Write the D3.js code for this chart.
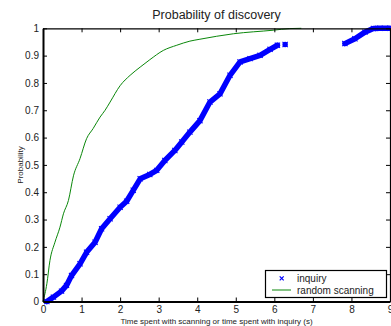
<!DOCTYPE html>
<html>
<head>
<meta charset="utf-8">
<script src="https://cdn.jsdelivr.net/npm/d3@7"></script>
<style>
  body { margin: 0; background: #fff; }
  svg { display: block; font-family: "Liberation Sans", Arial, sans-serif; }
</style>
</head>
<body>
<div id="chart-area"></div>
<script>
// random scanning (cdf)
var scanT = [0, 0.1, 0.18, 0.31, 0.44, 0.53, 0.66, 0.79, 0.96, 1.13, 1.3, 1.48, 1.61, 1.74,
             2.0, 2.26, 2.52, 2.77, 3.12, 3.47, 3.81, 4.07, 4.94, 5.97, 6.4, 6.7];
var scanP = [0, 0.065, 0.15, 0.217, 0.272, 0.321, 0.37, 0.46, 0.523, 0.596, 0.633, 0.675, 0.7, 0.73,
             0.79, 0.828, 0.858, 0.885, 0.919, 0.938, 0.953, 0.96, 0.98, 0.993, 0.999, 1];

// inquiry (null = gap in the data)
var inqT = [0.1, 0.27, 0.48, 0.61, 0.74, 0.96, 1.13, 1.35, 1.52, 1.74, 2.0, 2.17, 2.34, 2.52, 2.77,
            2.95, 3.16, 3.42, 3.6, 3.81, 4.07, 4.33, 4.59, 4.85, 5.11, 5.37, 5.63, 5.89, 6.08,
            6.18, 6.28, 7.0, 7.83, 8.09, 8.35, 8.57, 8.74, 9];
var inqP = [0, 0.016, 0.038, 0.059, 0.095, 0.138, 0.18, 0.217, 0.266, 0.303, 0.345, 0.367, 0.407, 0.449, 0.465,
            0.48, 0.516, 0.553, 0.584, 0.62, 0.662, 0.73, 0.76, 0.828, 0.877, 0.889, 0.901, 0.923, 0.938,
            null, 0.941, null, 0.944, 0.962, 0.986, 0.999, 1, 1];

var xTicks = [0, 1, 2, 3, 4, 5, 6, 7, 8, 9];
var yTicks = [0, 0.1, 0.2, 0.3, 0.4, 0.5, 0.6, 0.7, 0.8, 0.9, 1];

var W = 391, H = 326;
var margin = { left: 43, right: 390, top: 28.3, bottom: 301.5 };

var svg = d3.select("#chart-area").append("svg")
    .attr("width", W)
    .attr("height", H);

var x = d3.scaleLinear().domain([0, 9]).range([margin.left, margin.right]);
var y = d3.scaleLinear().domain([0, 1]).range([margin.bottom, margin.top]);

// lines
var scanData = scanT.map(function(t, i) { return [t, scanP[i]]; });
var inqData = inqT.map(function(t, i) { return [t, inqP[i]]; });

var line = d3.line()
    .defined(function(d) { return d[1] !== null; })
    .x(function(d) { return x(d[0]); })
    .y(function(d) { return y(d[1]); });

svg.append("path")
    .datum(inqData)
    .attr("fill", "none")
    .attr("stroke", "#0000ff")
    .attr("stroke-width", 5.5)
    .attr("stroke-linejoin", "round")
    .attr("stroke-linecap", "round")
    .attr("d", line);

// x markers
var ms = 2.6;
svg.selectAll(".mk")
    .data(inqData.filter(function(d) { return d[1] !== null; }))
    .enter().append("path")
    .attr("class", "mk")
    .attr("d", function(d) {
        var cx = x(d[0]), cy = y(d[1]);
        return "M" + (cx - ms) + "," + (cy - ms) + "L" + (cx + ms) + "," + (cy + ms) +
               "M" + (cx - ms) + "," + (cy + ms) + "L" + (cx + ms) + "," + (cy - ms);
    })
    .attr("stroke", "#0000ff")
    .attr("stroke-width", 1.1);

svg.append("path")
    .datum(scanData)
    .attr("fill", "none")
    .attr("stroke", "#0a870a")
    .attr("stroke-width", 1)
    .attr("stroke-linejoin", "round")
    .attr("d", line.curve(d3.curveMonotoneX));
line.curve(d3.curveLinear);

// axes
var xAxisCall = d3.axisBottom(x).tickValues(xTicks).tickSizeInner(-4).tickSizeOuter(0).tickPadding(4)
    .tickFormat(d3.format("d"));
var gx = svg.append("g")
    .attr("transform", "translate(0," + margin.bottom + ")")
    .call(xAxisCall);

var yAxisCall = d3.axisLeft(y).tickValues(yTicks).tickSizeInner(-4).tickSizeOuter(0).tickPadding(4)
    .tickFormat(function(d) { return d === 0 ? "0" : d === 1 ? "1" : d3.format(".1f")(d); });
var gy = svg.append("g")
    .attr("transform", "translate(" + margin.left + ",0)")
    .call(yAxisCall);

var gt = svg.append("g")
    .attr("transform", "translate(0," + margin.top + ")")
    .call(d3.axisTop(x).tickValues(xTicks).tickSizeInner(-4).tickSizeOuter(0).tickFormat(""));

var gr = svg.append("g")
    .attr("transform", "translate(" + margin.right + ",0)")
    .call(d3.axisRight(y).tickValues(yTicks).tickSizeInner(-4).tickSizeOuter(0).tickFormat(""));

[gx, gy, gt, gr].forEach(function(g) {
    g.selectAll("text").attr("font-size", "10px").attr("fill", "#222")
        .attr("font-family", "\"Liberation Sans\", Arial, sans-serif");
    g.selectAll(".tick line").attr("stroke", "#000");
});
gx.select(".domain").attr("stroke", "#000").attr("stroke-width", 2);
gy.select(".domain").attr("stroke", "#000").attr("stroke-width", 2);
gt.select(".domain").attr("stroke", "#000").attr("stroke-width", 1.2);
gr.select(".domain").attr("stroke", "#000").attr("stroke-width", 1.2);

// title
svg.append("text")
    .attr("x", (margin.left + margin.right) / 2)
    .attr("y", 19)
    .attr("text-anchor", "middle")
    .attr("font-size", "12.5px")
    .attr("fill", "#222")
    .text("Probability of discovery");

// x label
svg.append("text")
    .attr("x", (margin.left + margin.right) / 2)
    .attr("y", 324)
    .attr("text-anchor", "middle")
    .attr("font-size", "8px")
    .attr("fill", "#222")
    .text("Time spent with scanning or time spent with inquiry (s)");

// y label
svg.append("text")
    .attr("x", -165)
    .attr("y", 22.5)
    .attr("text-anchor", "middle")
    .attr("font-size", "8px")
    .attr("fill", "#222")
    .attr("transform", "rotate(-90)")
    .text("Probability");

// legend
var lg = svg.append("g");
lg.append("rect")
    .attr("x", 265.5).attr("y", 270.5)
    .attr("width", 121).attr("height", 27)
    .attr("fill", "#fff")
    .attr("stroke", "#000")
    .attr("stroke-width", 1.2);
var lx = 281.7, ly = 278.3;
lg.append("path")
    .attr("d", "M" + (lx - 2) + "," + (ly - 2) + "L" + (lx + 2) + "," + (ly + 2) +
               "M" + (lx - 2) + "," + (ly + 2) + "L" + (lx + 2) + "," + (ly - 2))
    .attr("stroke", "#0000ff").attr("stroke-width", 1.2);
lg.append("line")
    .attr("x1", 272).attr("x2", 291).attr("y1", 290).attr("y2", 290)
    .attr("stroke", "#0a870a").attr("stroke-width", 1);
lg.append("text")
    .attr("x", 297).attr("y", 282)
    .attr("font-size", "10px").attr("fill", "#222")
    .text("inquiry");
lg.append("text")
    .attr("x", 297).attr("y", 294)
    .attr("font-size", "10px").attr("fill", "#222")
    .text("random scanning");
</script>
</body>
</html>
